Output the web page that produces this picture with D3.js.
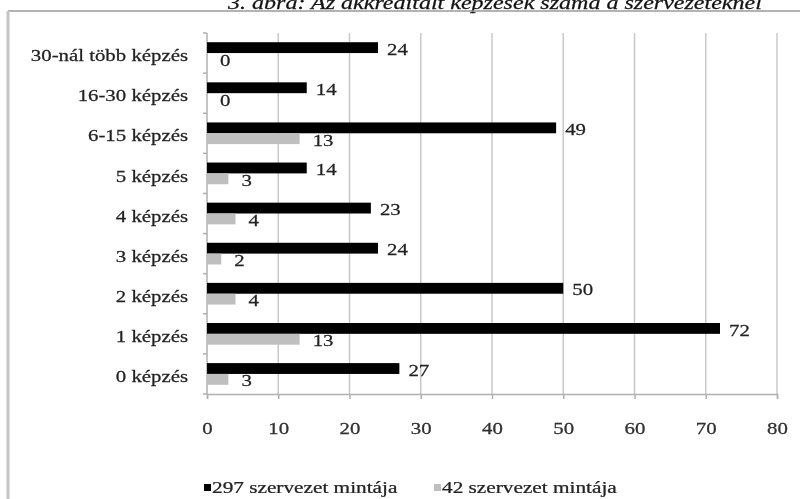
<!DOCTYPE html>
<html>
<head>
<meta charset="utf-8">
<script src="https://cdn.jsdelivr.net/npm/d3@7"></script>
<style>
  html, body { margin: 0; padding: 0; background: #fff; }
  svg { display: block; filter: blur(0.4px); }
</style>
</head>
<body>
<div id="chart"></div>
<script>
// Number of accredited trainings per organisation, two samples
const categories = ["30-nál több képzés", "16-30 képzés", "6-15 képzés", "5 képzés", "4 képzés", "3 képzés", "2 képzés", "1 képzés", "0 képzés"];
const sample297 = [24, 14, 49, 14, 23, 24, 50, 72, 27];
const sample42 = [0, 0, 13, 3, 4, 2, 4, 13, 3];
const seriesNames = ["297 szervezet mintája", "42 szervezet mintája"];
const xTicks = [0, 10, 20, 30, 40, 50, 60, 70, 80];
const title = "3. ábra: Az akkreditált képzések száma a szervezeteknél";

const W = 800, H = 499;
const margin = { top: 33, left: 207, right: 23, bottom: 105 };
const colors = ["#000000", "#bfbfbf"];
const font = "'Liberation Serif', 'Times New Roman', serif";
const FS = 17.5;  // label font size
const SX = 1.19;  // horizontal stretch of the serif lettering

const svg = d3.select("#chart").append("svg")
  .attr("width", W).attr("height", H)
  .style("font-family", font);

// places a text at (x, y), widened horizontally around its anchor
function placeText(sel, fx, fy, sx = SX) {
  return sel.attr("x", 0).attr("y", 0)
    .attr("transform", (d, i) => `translate(${fx(d, i)},${fy(d, i)}) scale(${sx},1)`)
    .attr("stroke", "#222").attr("stroke-width", 0.25);
}

// caption, partly above the top edge
placeText(svg.append("text"), () => 228, () => 8.5, 1.3)
  .attr("font-size", 18.5).attr("font-style", "italic")
  .attr("fill", "#111")
  .text(title);

// chart frame
svg.append("line").attr("x1", 8).attr("x2", W).attr("y1", 11).attr("y2", 11)
  .attr("stroke", "#9a9a9a").attr("stroke-width", 1.5);
svg.append("line").attr("x1", 8).attr("x2", 8).attr("y1", 11).attr("y2", H)
  .attr("stroke", "#c4c4c4").attr("stroke-width", 3);

const x = d3.scaleLinear().domain([0, 80]).range([margin.left, W - margin.right]);
const y = d3.scaleBand().domain(categories).range([margin.top, H - margin.bottom]);
const inner = d3.scaleBand().domain([0, 1]).range([0, y.bandwidth()]).paddingOuter(0.85).paddingInner(0);

// vertical gridlines
svg.append("g").selectAll("line").data(xTicks.slice(1)).join("line")
  .attr("x1", d => x(d)).attr("x2", d => x(d))
  .attr("y1", margin.top).attr("y2", H - margin.bottom)
  .attr("stroke", "#c8c8c8").attr("stroke-width", 1.5);

// x axis
const xAxis = svg.append("g")
  .attr("transform", `translate(0,${H - margin.bottom})`)
  .call(d3.axisBottom(x).tickValues(xTicks).tickSize(5));
xAxis.select(".domain").attr("stroke", "#b0b0b0").attr("stroke-width", 1.5);
xAxis.selectAll(".tick line").attr("stroke", "#b0b0b0").attr("stroke-width", 1.5);
placeText(xAxis.selectAll(".tick text"), () => 0, () => 34)
  .attr("dy", "0.32em")
  .attr("font-size", FS).attr("font-family", font).attr("fill", "#333");

// y axis: ticks at band boundaries
svg.append("line")
  .attr("x1", margin.left).attr("x2", margin.left)
  .attr("y1", margin.top).attr("y2", H - margin.bottom)
  .attr("stroke", "#b0b0b0").attr("stroke-width", 1.5);
svg.append("g").selectAll("line").data(d3.range(categories.length + 1)).join("line")
  .attr("x1", margin.left - 4).attr("x2", margin.left)
  .attr("y1", i => margin.top + i * y.step()).attr("y2", i => margin.top + i * y.step())
  .attr("stroke", "#b0b0b0").attr("stroke-width", 1.5);

placeText(svg.append("g").selectAll("text").data(categories).join("text"),
    () => 188, d => y(d) + y.bandwidth() / 2 + 2)
  .attr("dy", "0.35em").attr("text-anchor", "end")
  .attr("font-size", FS).attr("fill", "#222")
  .text(d => d);

// bars with value labels
const series = [sample297, sample42];
series.forEach((vals, si) => {
  const g = svg.append("g");
  g.selectAll("rect").data(vals).join("rect")
    .attr("x", x(0))
    .attr("y", (d, i) => y(categories[i]) + inner(si))
    .attr("width", d => x(d) - x(0))
    .attr("height", inner.bandwidth())
    .attr("fill", colors[si]);
  placeText(g.selectAll("text").data(vals).join("text"),
      d => x(d) + (si === 0 ? 9 : 13),
      (d, i) => y(categories[i]) + inner(si) + inner.bandwidth() / 2 + 1)
    .attr("dy", "0.35em")
    .attr("font-size", FS).attr("fill", "#222")
    .text(d => d);
});

// legend
const legendX = [204, 434];
legendX.forEach((lx, i) => {
  svg.append("rect").attr("x", lx).attr("y", 484).attr("width", 7).attr("height", 7).attr("fill", colors[i]);
  placeText(svg.append("text"), () => lx + 8, () => 487, 1.33)
    .attr("dy", "0.35em")
    .attr("font-size", 16).attr("fill", "#222")
    .text(seriesNames[i]);
});
</script>
</body>
</html>
